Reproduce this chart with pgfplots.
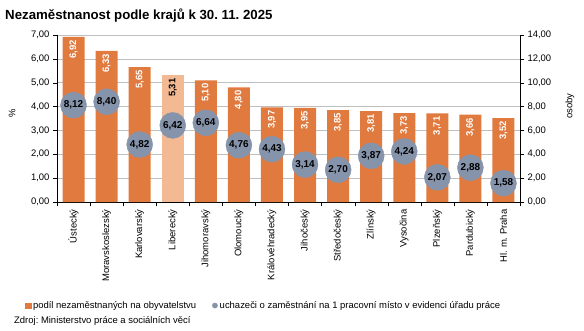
\documentclass[border=0pt]{standalone}
\usepackage{pgfplots}
\pgfplotsset{compat=1.18}
\usepackage{fontspec}
\setmainfont{Liberation Sans}
\frenchspacing
\definecolor{bar}{HTML}{E07A3F}
\definecolor{barlight}{HTML}{F3B993}
\definecolor{bub}{HTML}{8593AB}
\definecolor{gridc}{HTML}{BFBFBF}
\tikzset{nf/.style={/pgf/number format/fixed, /pgf/number format/fixed zerofill, /pgf/number format/precision=2, /pgf/number format/use comma}}
\begin{document}
\begin{tikzpicture}[x=1bp,y=1bp]
\useasboundingbox (0,0) rectangle (584,330);
\node[anchor=base west,font=\fontsize{13.3}{15}\selectfont\bfseries,inner sep=0] at (5,311) {Nezaměstnanost podle krajů k 30. 11. 2025};
\node[anchor=base west,font=\fontsize{9.5}{11}\selectfont,inner sep=0] at (14,7) {Zdroj: Ministerstvo práce a sociálních věcí};
\pgfplotsset{
  myax/.style={
    scale only axis, width=463bp, height=167bp,
    at={(57bp,128bp)}, anchor=south west,
    xmin=-0.5, xmax=13.5,
    ticklabel style={font=\fontsize{9.5}{11}\selectfont},
    /pgf/number format/fixed, /pgf/number format/fixed zerofill, /pgf/number format/precision=2, /pgf/number format/use comma,
    /pgf/number format/assume math mode=true,
  }
}
\begin{axis}[myax,
  ymin=0, ymax=7, ytick={0,1,...,7},
  axis y line*=left, axis x line*=bottom,
  ymajorgrids, grid style={gridc, line width=0.7pt},
  xtick={0,...,13},
  xticklabels={Ústecký,Moravskoslezský,Karlovarský,Liberecký,Jihomoravský,Olomoucký,Královéhradecký,Jihočeský,Středočeský,Zlínský,Vysočina,Plzeňský,Pardubický,Hl. m. Praha},
  xticklabel style={rotate=90, anchor=east, font=\fontsize{9.5}{11}\selectfont},
  major x tick style={draw=none},
  minor xtick={-0.5,0.5,...,13.5},
  minor tick length=4bp,
  major tick length=4bp,
  tick align=outside,
  ytick style={black},
  minor x tick style={black},
  axis line style={black, line width=0.7pt},
  ylabel={\%}, ylabel style={font=\fontsize{9.5}{11}\selectfont, at={(-0.097,0.533)}, anchor=center},
  ybar, bar width=22bp,
  nodes near coords,
  nodes near coords style={rotate=90, anchor=east, font=\fontsize{9.5}{11}\selectfont\bfseries, inner sep=3bp, nf},
  legend columns=2,
  legend style={at={(-0.075,-0.62)}, anchor=west, draw=none, fill=none, font=\fontsize{9.5}{11}\selectfont,
    /tikz/every even column/.append style={column sep=14bp}},
  legend cell align=left,
  clip=false,
]
\addplot[fill=bar, draw=none, bar shift=0pt, forget plot, nodes near coords style={text=white}] coordinates {
(0,6.92) (1,6.33) (2,5.65) (4,5.10) (5,4.80) (6,3.97) (7,3.95) (8,3.85) (9,3.81) (10,3.73) (11,3.71) (12,3.66) (13,3.52)};
\addplot[fill=barlight, draw=none, bar shift=0pt, forget plot, nodes near coords style={text=black}] coordinates {(3,5.31)};
\addlegendimage{legend image code/.code={\fill[bar] (0bp,-2.6bp) rectangle (5.2bp,2.6bp);}}
\addlegendentry{podíl nezaměstnaných na obyvatelstvu}
\addlegendimage{legend image code/.code={\fill[bub] (2.6bp,0bp) circle[radius=2.6bp];}}
\addlegendentry{uchazeči o zaměstnání na 1 pracovní místo v evidenci úřadu práce}
\end{axis}
\begin{axis}[myax,
  ymin=0, ymax=14, ytick={0,2,...,14},
  axis y line*=right, axis x line=none,
  tick align=outside, major tick length=4bp,
  ytick style={black},
  axis line style={black, line width=0.7pt},
  ylabel={osoby}, ylabel style={font=\fontsize{9.5}{11}\selectfont, rotate=0, at={(1.108,0.575)}, anchor=center},
  clip=false,
]
\addplot[only marks, color=bub, mark=*, mark size=13bp, mark options={fill=bub, draw=bub},
  nodes near coords, nodes near coords align=center,
  nodes near coords style={anchor=center, font=\fontsize{10}{12}\selectfont\bfseries, text=black, nf}] coordinates {
(0,8.12) (1,8.40) (2,4.82) (3,6.42) (4,6.64) (5,4.76) (6,4.43) (7,3.14) (8,2.70) (9,3.87) (10,4.24) (11,2.07) (12,2.88) (13,1.58)};
\end{axis}
\end{tikzpicture}
\end{document}
